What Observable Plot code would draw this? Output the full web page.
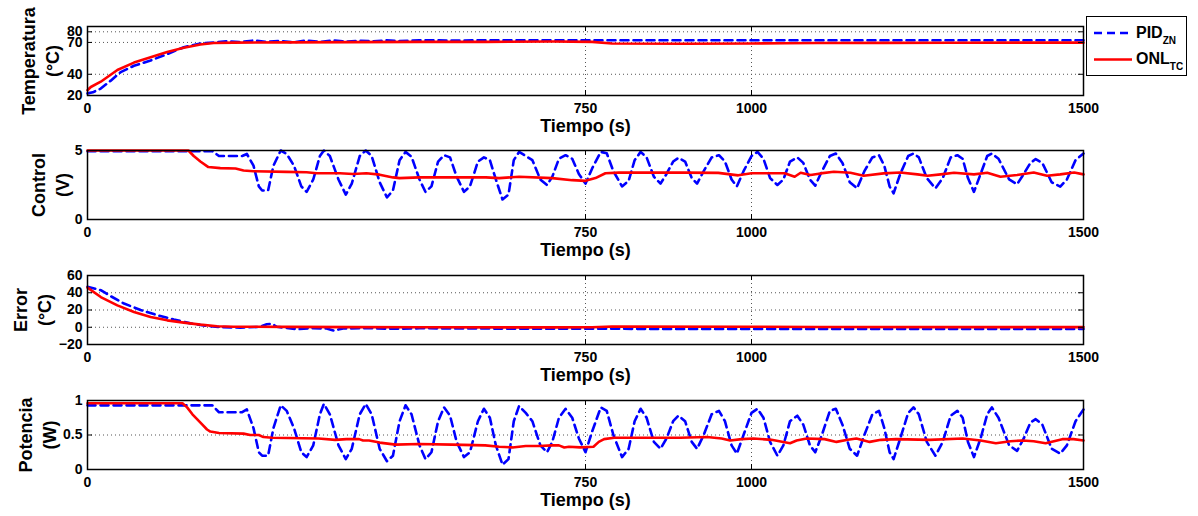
<!DOCTYPE html>
<html><head><meta charset="utf-8">
<script src="https://cdn.jsdelivr.net/npm/d3@7"></script>
<script src="https://cdn.jsdelivr.net/npm/@observablehq/plot@0.6"></script>
<style>
body{margin:0;background:#fff;}
#chart{position:relative;width:1198px;height:516px;font-family:"Liberation Sans",Arial,sans-serif;}
#chart svg.panel{position:absolute;left:0;}
</style></head>
<body><div id="chart"></div>
<script>
// ---------- data ----------
const xTicks = [0, 750, 1000, 1500];
const xLabel = "Tiempo (s)";
const seriesNames = ["PID", "ONL"];
const seriesSubs = ["ZN", "TC"];
const panelLabels = ["Temperatura\n(°C)", "Control\n(V)", "Error\n(°C)", "Potencia\n(W)"];

const tempDomain = [20, 85], tempTicks = [20, 40, 70, 80];
const ctrlDomain = [0, 5], ctrlTicks = [0, 5];
const errDomain = [-20, 60], errTicks = [-20, 0, 20, 40, 60];
const powDomain = [0, 1], powTicks = [0, 0.5, 1];

// PID (Ziegler-Nichols) shared time base for control and power
const pidT = [0,188,198,233,240,250,258,263,272,280,
  291,300,311,322,330,340,350,356,365,378,
  389,398,410,419,428,440,451,460,470,479,
  488,500,509,518,528,537,546,556,567,576,
  588,597,606,615,625,634,642,650,660,670,
  682,692,700,710,720,730,740,750,760,773,
  782,792,805,815,824,833,842,853,863,872,
  882,890,900,910,918,928,940,951,960,970,
  978,988,1000,1009,1018,1028,1039,1048,1058,1069,
  1078,1088,1096,1106,1118,1127,1137,1148,1159,1170,
  1182,1192,1200,1208,1214,1224,1236,1244,1252,1264,
  1277,1288,1300,1310,1318,1326,1335,1345,1355,1362,
  1372,1388,1400,1410,1420,1428,1438,1452,1465,1475,
  1488,1500];
const pidPower = [0.93,0.93,0.83,0.83,0.87,0.6,0.25,0.2,0.2,0.6,
  0.93,0.85,0.6,0.25,0.18,0.35,0.8,0.95,0.8,0.35,
  0.15,0.3,0.8,0.95,0.8,0.3,0.12,0.2,0.7,0.93,
  0.8,0.35,0.15,0.25,0.7,0.9,0.78,0.4,0.18,0.25,
  0.7,0.88,0.75,0.35,0.07,0.15,0.7,0.92,0.82,0.7,
  0.35,0.25,0.4,0.75,0.88,0.75,0.45,0.25,0.55,0.9,
  0.85,0.5,0.18,0.3,0.7,0.88,0.75,0.4,0.3,0.45,
  0.7,0.78,0.7,0.4,0.3,0.5,0.8,0.85,0.7,0.35,
  0.23,0.5,0.82,0.88,0.75,0.4,0.2,0.35,0.7,0.78,
  0.65,0.35,0.25,0.5,0.85,0.88,0.65,0.3,0.2,0.5,
  0.8,0.85,0.6,0.25,0.15,0.45,0.82,0.9,0.8,0.4,
  0.2,0.4,0.78,0.85,0.75,0.4,0.18,0.45,0.8,0.9,
  0.75,0.35,0.27,0.45,0.68,0.73,0.65,0.3,0.23,0.35,
  0.7,0.87];
const pidControl = [4.95,4.95,4.6,4.6,4.75,3.9,2.4,2.1,2.1,3.9,
  5.0,4.75,3.9,2.4,2.0,2.9,4.6,5.0,4.6,2.9,
  1.8,2.6,4.6,5.0,4.6,2.7,1.6,2.1,4.3,4.9,
  4.55,2.9,2.0,2.4,4.2,4.66,4.5,3.1,2.0,2.4,
  4.2,4.5,4.3,2.9,1.45,1.8,4.3,4.9,4.6,4.3,
  2.9,2.5,3.1,4.4,4.66,4.4,3.3,2.6,3.7,4.9,
  4.8,3.5,2.4,2.8,4.3,4.9,4.5,3.1,2.6,3.3,
  4.2,4.47,4.2,3.0,2.6,3.5,4.5,4.66,4.2,2.9,
  2.4,3.5,4.6,4.9,4.4,3.0,2.5,2.9,4.2,4.5,
  4.1,2.9,2.45,3.5,4.6,4.78,4.1,2.7,2.26,3.5,
  4.5,4.66,3.9,2.4,1.9,3.3,4.6,4.78,4.5,3.0,
  2.26,3.0,4.5,4.66,4.4,3.0,2.0,3.3,4.6,4.78,
  4.4,2.9,2.55,3.3,4.1,4.38,4.1,2.7,2.38,2.9,
  4.3,4.78];

const pidTempT = [0,8,20,35,50,70,95,120,145,170,190,210,230,250,270,290,310,330,350,370,390,410,430,450,470,500,550,600,700,800,900,1000,1100,1200,1300,1400,1500];
const pidTemp = [22,23,26.5,34,42,48,53,59,65.5,69,70,71.2,70.3,71.8,70.5,71.5,70,71.8,70.5,72,70.8,71.6,71,72,71.4,72,71.8,72,72,72,72,72,72,72,72,72,72];

const onlTempT = [0,5,20,45,70,95,120,145,170,190,220,300,400,500,600,700,760,790,900,1000,1050,1100,1200,1300,1400,1500];
const onlTemp = [25,28,33,44,51,56,61,65,68,69.4,69.8,70,70.3,70.5,70.5,70.8,70.5,69,68.8,69,69.2,69.5,69.6,69.7,69.8,69.8];

const pidErrT = [0,10,20,35,55,80,105,130,155,180,200,230,260,270,278,285,300,316,340,360,371,385,420,460,500,600,700,800,900,1000,1100,1200,1300,1400,1500];
const pidErr = [47,45,43,36,27.5,20,14,9,4.5,1.5,0.3,-0.5,0.5,3.5,4,0.5,-0.8,-2.3,-1,-1.5,-3.8,-1.5,-1,-1.8,-1.2,-1.5,-1.8,-1.8,-2,-2,-2,-2,-2,-2,-2];

const onlErrT = [0,20,45,70,95,120,145,170,195,220,300,400,500,700,760,790,1000,1100,1300,1500];
const onlErr = [46,35,25.4,17.7,12,8,5.4,3,1.2,0.6,0.4,0.2,0,-0.2,0,0.8,0.6,0.3,0.2,0.2];

const onlCtrlT = [0,152,160,170,182,200,223,235,250,300,330,345,380,400,420,440,460,470,500,560,600,620,650,700,730,750,765,780,800,900,950,980,1000,1050,1065,1074,1089,1104,1124,1149,1169,1199,1224,1250,1265,1285,1305,1335,1355,1375,1400,1425,1445,1465,1486,1500];
const onlCtrl = [5,5,4.6,4.2,3.8,3.72,3.7,3.55,3.5,3.45,3.42,3.35,3.35,3.3,3.35,3.25,3.05,3.0,3.05,3.05,3.05,3.0,3.1,3.0,2.85,2.8,3.0,3.35,3.4,3.4,3.38,3.2,3.35,3.35,3.1,3.39,3.22,3.34,3.46,3.39,3.17,3.34,3.41,3.27,3.17,3.27,3.39,3.27,3.39,3.1,3.22,3.41,3.17,3.27,3.41,3.27];

const onlPowT = [0,143,150,158,165,173,180,185,198,235,245,258,265,278,348,373,390,409,415,424,440,464,499,549,599,620,640,660,680,700,710,718,725,742,762,770,778,793,893,933,955,968,985,1003,1030,1058,1068,1083,1110,1128,1145,1158,1178,1195,1218,1268,1318,1345,1368,1390,1408,1425,1443,1468,1485,1500];
const onlPow = [0.96,0.96,0.9,0.8,0.73,0.65,0.58,0.55,0.53,0.52,0.5,0.5,0.47,0.46,0.45,0.43,0.44,0.44,0.42,0.42,0.39,0.36,0.37,0.36,0.35,0.33,0.32,0.34,0.34,0.35,0.35,0.32,0.33,0.32,0.33,0.4,0.44,0.46,0.46,0.47,0.45,0.42,0.44,0.45,0.43,0.38,0.42,0.45,0.44,0.4,0.43,0.45,0.4,0.43,0.44,0.43,0.45,0.42,0.38,0.41,0.42,0.41,0.38,0.44,0.44,0.42];

// ---------- drawing ----------
const W = 1198, ML = 87, MR = 115, MT = 10, MB = 45, H = 124;
const innerW = W - ML - MR, innerH = H - MT - MB;
const rows = (T, V) => T.map((t, i) => ({t, v: V[i]}));
const fmt = d => d < 0 ? "\u2212" + String(-d) : String(d);

const panels = [
  {domain: tempDomain, ticks: tempTicks, grid: tempTicks, pid: rows(pidTempT, pidTemp), onl: rows(onlTempT, onlTemp), label: panelLabels[0], dx: -48, top: 16},
  {domain: ctrlDomain, ticks: ctrlTicks, grid: ctrlTicks, pid: rows(pidT, pidControl), onl: rows(onlCtrlT, onlCtrl), label: panelLabels[1], dx: -38, top: 140},
  {domain: errDomain, ticks: errTicks, grid: errTicks, pid: rows(pidErrT, pidErr), onl: rows(onlErrT, onlErr), label: panelLabels[2], dx: -56, top: 265},
  {domain: powDomain, ticks: powTicks, grid: powTicks, pid: rows(pidT, pidPower), onl: rows(onlPowT, onlPow), label: panelLabels[3], dx: -51, top: 390}
];

const chart = document.getElementById("chart");
for (const p of panels) {
  const svg = Plot.plot({
    width: W, height: H,
    marginLeft: ML, marginRight: MR, marginTop: MT, marginBottom: MB,
    style: {fontFamily: "'Liberation Sans', Arial, sans-serif", fontSize: "14px", fontWeight: "bold", color: "black", background: "transparent", overflow: "visible"},
    x: {domain: [0, 1500], ticks: xTicks, tickSize: 0, tickPadding: 8, label: null, tickFormat: fmt},
    y: {domain: p.domain, ticks: p.ticks, tickSize: 0, tickPadding: 5, label: null, tickFormat: fmt},
    marks: [
      Plot.ruleX(xTicks, {x: d => d, stroke: "#555", strokeWidth: 1, strokeDasharray: "1,3"}),
      Plot.ruleY(p.grid, {y: d => d, stroke: "#555", strokeWidth: 1, strokeDasharray: "1,3"}),
      Plot.line(p.pid, {x: "t", y: "v", stroke: "#0000ff", strokeWidth: 2.6, strokeDasharray: "8,5"}),
      Plot.line(p.onl, {x: "t", y: "v", stroke: "#ff0000", strokeWidth: 2.6}),
      Plot.tickX(xTicks, {x: d => d, stroke: "black", insetTop: innerH - 5}),
      Plot.tickX(xTicks, {x: d => d, stroke: "black", insetBottom: innerH - 5}),
      Plot.tickY(p.ticks, {y: d => d, stroke: "black", insetRight: innerW - 5}),
      Plot.tickY(p.ticks, {y: d => d, stroke: "black", insetLeft: innerW - 5}),
      Plot.frame({stroke: "black", strokeWidth: 1.5}),
      Plot.text([xLabel], {text: d => d, frameAnchor: "bottom", lineAnchor: "bottom", dy: 36, fontSize: 18, fontWeight: "bold", fill: "black"}),
      Plot.text([p.label], {text: d => d, frameAnchor: "left", rotate: -90, dx: p.dx, fontSize: 18, fontWeight: "bold", lineHeight: 1.35, textAnchor: "middle", lineAnchor: "middle", fill: "black"})
    ]
  });
  svg.classList.add("panel");
  svg.style.top = p.top + "px";
  chart.appendChild(svg);
}

// legend
const lg = d3.select(chart).append("svg")
  .attr("width", 103).attr("height", 62)
  .style("position", "absolute").style("left", "1085px").style("top", "15px")
  .style("font-family", "'Liberation Sans', Arial, sans-serif").style("font-weight", "bold");
lg.append("rect").attr("x", 1.5).attr("y", 1.5).attr("width", 100).attr("height", 59)
  .attr("fill", "white").attr("stroke", "black").attr("stroke-width", 1);
const legendStyles = [{stroke: "#0000ff", dash: "8,5", y: 18}, {stroke: "#ff0000", dash: null, y: 44.5}];
seriesNames.forEach((name, i) => {
  const s = legendStyles[i];
  lg.append("line").attr("x1", 9).attr("x2", 47).attr("y1", s.y).attr("y2", s.y)
    .attr("stroke", s.stroke).attr("stroke-width", 2.6).attr("stroke-dasharray", s.dash);
  const t = lg.append("text").attr("x", 51).attr("y", s.y + 4.5).attr("font-size", 16).attr("fill", "black").text(name);
  t.append("tspan").attr("font-size", 10).attr("dy", 6).text(seriesSubs[i]);
});
</script>
</body></html>
